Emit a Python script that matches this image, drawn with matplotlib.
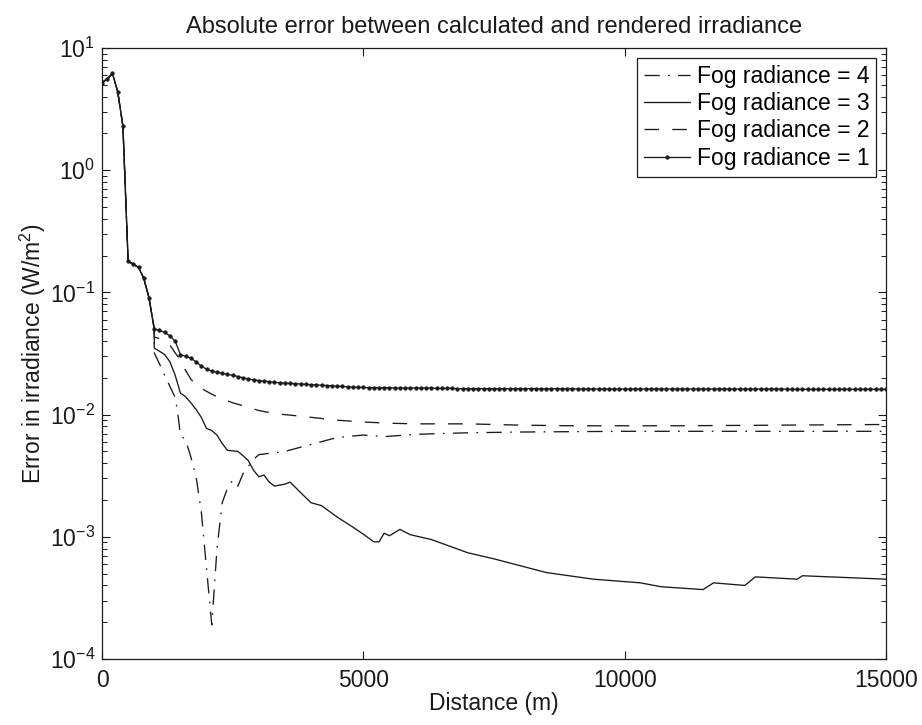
import numpy as np
import matplotlib
matplotlib.use("Agg")
import matplotlib.pyplot as plt
from matplotlib.ticker import LogLocator, NullFormatter, FixedLocator

plt.rcParams['font.family'] = ['Liberation Sans', 'DejaVu Sans']
plt.rcParams['mathtext.fontset'] = 'custom'
plt.rcParams['mathtext.rm'] = 'Liberation Sans'
plt.rcParams['mathtext.it'] = 'Liberation Sans:italic'
plt.rcParams['lines.scale_dashes'] = False

# ---- data ----
# Fog radiance = 1 (sampled every 100 m, markers at each sample)
dist_fog1 = np.arange(0, 15001, 100)
err_fog1 = [
    5.2, 5.6, 6.2, 4.4, 2.3, 0.18, 0.17, 0.16, 0.13, 0.09, 0.050,
    0.049, 0.047, 0.044, 0.040, 0.031, 0.030, 0.029, 0.027, 0.025, 0.0235,
    0.0228, 0.0222, 0.0218, 0.0213, 0.0210, 0.0205, 0.0200, 0.0196, 0.0192, 0.0190,
    0.0188, 0.0186, 0.0184, 0.0182, 0.0181, 0.0180, 0.0179, 0.0178, 0.0177, 0.0176,
    0.0175, 0.0174, 0.0173, 0.0172, 0.0171, 0.0170, 0.0169, 0.0168, 0.0167, 0.0167,
    0.0166, 0.0166, 0.0166, 0.0166, 0.0166, 0.0165, 0.0165, 0.0165, 0.0165, 0.0165,
    0.0165, 0.0165, 0.0165, 0.0164, 0.0164, 0.0164, 0.0164, 0.0163, 0.0163, 0.0163,
    0.0163, 0.0163, 0.0163, 0.0163, 0.0163, 0.0163, 0.0163, 0.0163, 0.0163, 0.0163,
    0.0163, 0.0163, 0.0163, 0.0163, 0.0163, 0.0163, 0.0163, 0.0163, 0.0163, 0.0163,
    0.0162, 0.0162, 0.0162, 0.0162, 0.0162, 0.0162, 0.0162, 0.0162, 0.0162, 0.0162,
    0.0162, 0.0162, 0.0162, 0.0162, 0.0162, 0.0162, 0.0162, 0.0162, 0.0162, 0.0162,
    0.0162, 0.0162, 0.0162, 0.0162, 0.0162, 0.0162, 0.0162, 0.0162, 0.0162, 0.0162,
    0.0162, 0.0162, 0.0162, 0.0162, 0.0162, 0.0162, 0.0162, 0.0162, 0.0162, 0.0162,
    0.0161, 0.0161, 0.0161, 0.0161, 0.0161, 0.0161, 0.0161, 0.0161, 0.0161, 0.0161,
    0.0161, 0.0161, 0.0161, 0.0161, 0.0161, 0.0161, 0.0161, 0.0161, 0.0161, 0.0161,
]

# Fog radiance = 2 (dashed)
dist_fog2 = [0, 100, 200, 300, 400, 500, 600, 700, 800, 900, 1000, 1000,
             1100, 1200, 1300, 1400, 1500, 1600, 1700, 1800, 2000, 2200, 2500,
             2700, 3000, 3300, 3800, 4500, 5000, 5500, 6000, 7000, 8000, 9000,
             11000, 13000, 15000]
err_fog2 = [5.2, 5.6, 6.2, 4.4, 2.3, 0.18, 0.17, 0.16, 0.13, 0.09, 0.050, 0.043,
            0.042, 0.040, 0.037, 0.032, 0.028, 0.023, 0.0195, 0.0175, 0.0155,
            0.014, 0.0125, 0.0118, 0.0108, 0.0102, 0.0097, 0.0090, 0.0087,
            0.0085, 0.0084, 0.0084, 0.0082, 0.0081, 0.0081, 0.0082, 0.0083]

# Fog radiance = 3 (solid)
dist_fog3 = [0, 100, 200, 300, 400, 500, 600, 700, 800, 900, 1000, 1000,
             1100, 1200, 1300, 1400, 1500, 1600, 1700, 1800, 1900, 2000, 2100,
             2200, 2300, 2400, 2600, 2700, 2800, 2900, 3000, 3100, 3200, 3300,
             3500, 3600, 3800, 4000, 4200, 4500, 4800, 5000, 5200, 5300, 5400,
             5500, 5700, 5900, 6300, 7000, 7500, 8000, 8500, 9400, 10300, 10700,
             11500, 11700, 12300, 12500, 13300, 13400, 15000]
err_fog3 = [5.2, 5.6, 6.2, 4.4, 2.3, 0.18, 0.17, 0.16, 0.13, 0.09, 0.050, 0.035,
            0.033, 0.031, 0.027, 0.021, 0.015, 0.014, 0.0125, 0.011, 0.0095,
            0.0077, 0.0074, 0.0068, 0.0058, 0.0051, 0.0050, 0.0046, 0.0042,
            0.0035, 0.0031, 0.0032, 0.0028, 0.0026, 0.0027, 0.0028, 0.0023,
            0.0019, 0.0018, 0.00145, 0.0012, 0.00105, 0.00091, 0.00091, 0.00107,
            0.00102, 0.00115, 0.00104, 0.00095, 0.00074, 0.00066, 0.00058,
            0.00051, 0.00045, 0.00042, 0.00039, 0.00037, 0.00042, 0.00040,
            0.00047, 0.00045, 0.00048, 0.00045]

# Fog radiance = 4 (dash-dot)
dist_fog4 = [0, 100, 200, 300, 400, 500, 600, 700, 800, 900, 1000, 1000,
             1100, 1200, 1300, 1400, 1450, 1500, 1600, 1700, 1800, 1900, 2000,
             2100, 2200, 2300, 2400, 2500, 2600, 2700, 2900, 3000, 3500, 4000,
             4500, 5000, 5400, 6000, 7000, 8000, 10000, 12000, 15000]
err_fog4 = [5.2, 5.6, 6.2, 4.4, 2.3, 0.18, 0.17, 0.16, 0.13, 0.09, 0.050, 0.032,
            0.026, 0.021, 0.017, 0.0138, 0.0103, 0.0068, 0.0062, 0.0045, 0.0031,
            0.0016, 0.00055, 0.00019, 0.0008, 0.0019, 0.0025, 0.0029, 0.0026,
            0.0033, 0.0043, 0.0047, 0.0050, 0.0057, 0.0065, 0.0068, 0.0066,
            0.0069, 0.0071, 0.0072, 0.0073, 0.0073, 0.0073]

x_ticks = [0, 5000, 10000, 15000]
title = "Absolute error between calculated and rendered irradiance"
labels = ["Fog radiance = 4", "Fog radiance = 3", "Fog radiance = 2", "Fog radiance = 1"]

# ---- figure ----
fs = 16.5
fig = plt.figure(figsize=(9.22, 7.25), dpi=100)
ax = fig.add_axes([102 / 922, 66 / 725, 784 / 922, 611 / 725])

c = '#1a1a1a'
lw = 0.95
ax.plot(dist_fog4, err_fog4, color=c, lw=lw, ls=(0, (11.0, 6.0, 1.2, 6.0)), label=labels[0])
ax.plot(dist_fog3, err_fog3, color=c, lw=lw, ls='-', label=labels[1])
ax.plot(dist_fog2, err_fog2, color=c, lw=lw, ls=(0, (10.5, 9.5)), label=labels[2])
ax.plot(dist_fog1, err_fog1, color=c, lw=lw, ls='-', marker='o', markersize=2.6,
        markeredgewidth=0.4, label=labels[3])

ax.set_yscale('log')
ax.set_xlim(0, 15000)
ax.set_ylim(1e-4, 10)
ax.xaxis.set_major_locator(FixedLocator(x_ticks))
ax.set_xticklabels([str(v) for v in x_ticks])
ax.yaxis.set_major_locator(LogLocator(base=10, numticks=10))
ax.yaxis.set_minor_locator(LogLocator(base=10, subs=np.arange(2, 10), numticks=20))
ax.yaxis.set_minor_formatter(NullFormatter())

ax.tick_params(which='both', direction='in', top=True, right=True, labelsize=fs, colors=c)
ax.tick_params(which='major', length=6, width=0.8)
ax.tick_params(which='minor', length=3.5, width=0.7)
ax.tick_params(axis='x', which='major', pad=7)
ax.tick_params(axis='y', which='major', pad=5)
for s in ax.spines.values():
    s.set_linewidth(0.9)
    s.set_color(c)

ax.set_title(title, fontsize=17, pad=11, color=c)
ax.set_xlabel("Distance (m)", fontsize=fs, labelpad=0, color=c)
ax.set_ylabel(r"Error in irradiance (W/m$^2$)", fontsize=fs, labelpad=1, color=c)

leg = ax.legend(loc='upper right', fontsize=fs, frameon=True, fancybox=False,
                edgecolor=c, framealpha=1, borderaxespad=0.43, handlelength=2.0,
                labelspacing=0.19, borderpad=0.3, handletextpad=0.3)
leg.get_frame().set_linewidth(0.9)

fig.savefig("out.png", dpi=100)
